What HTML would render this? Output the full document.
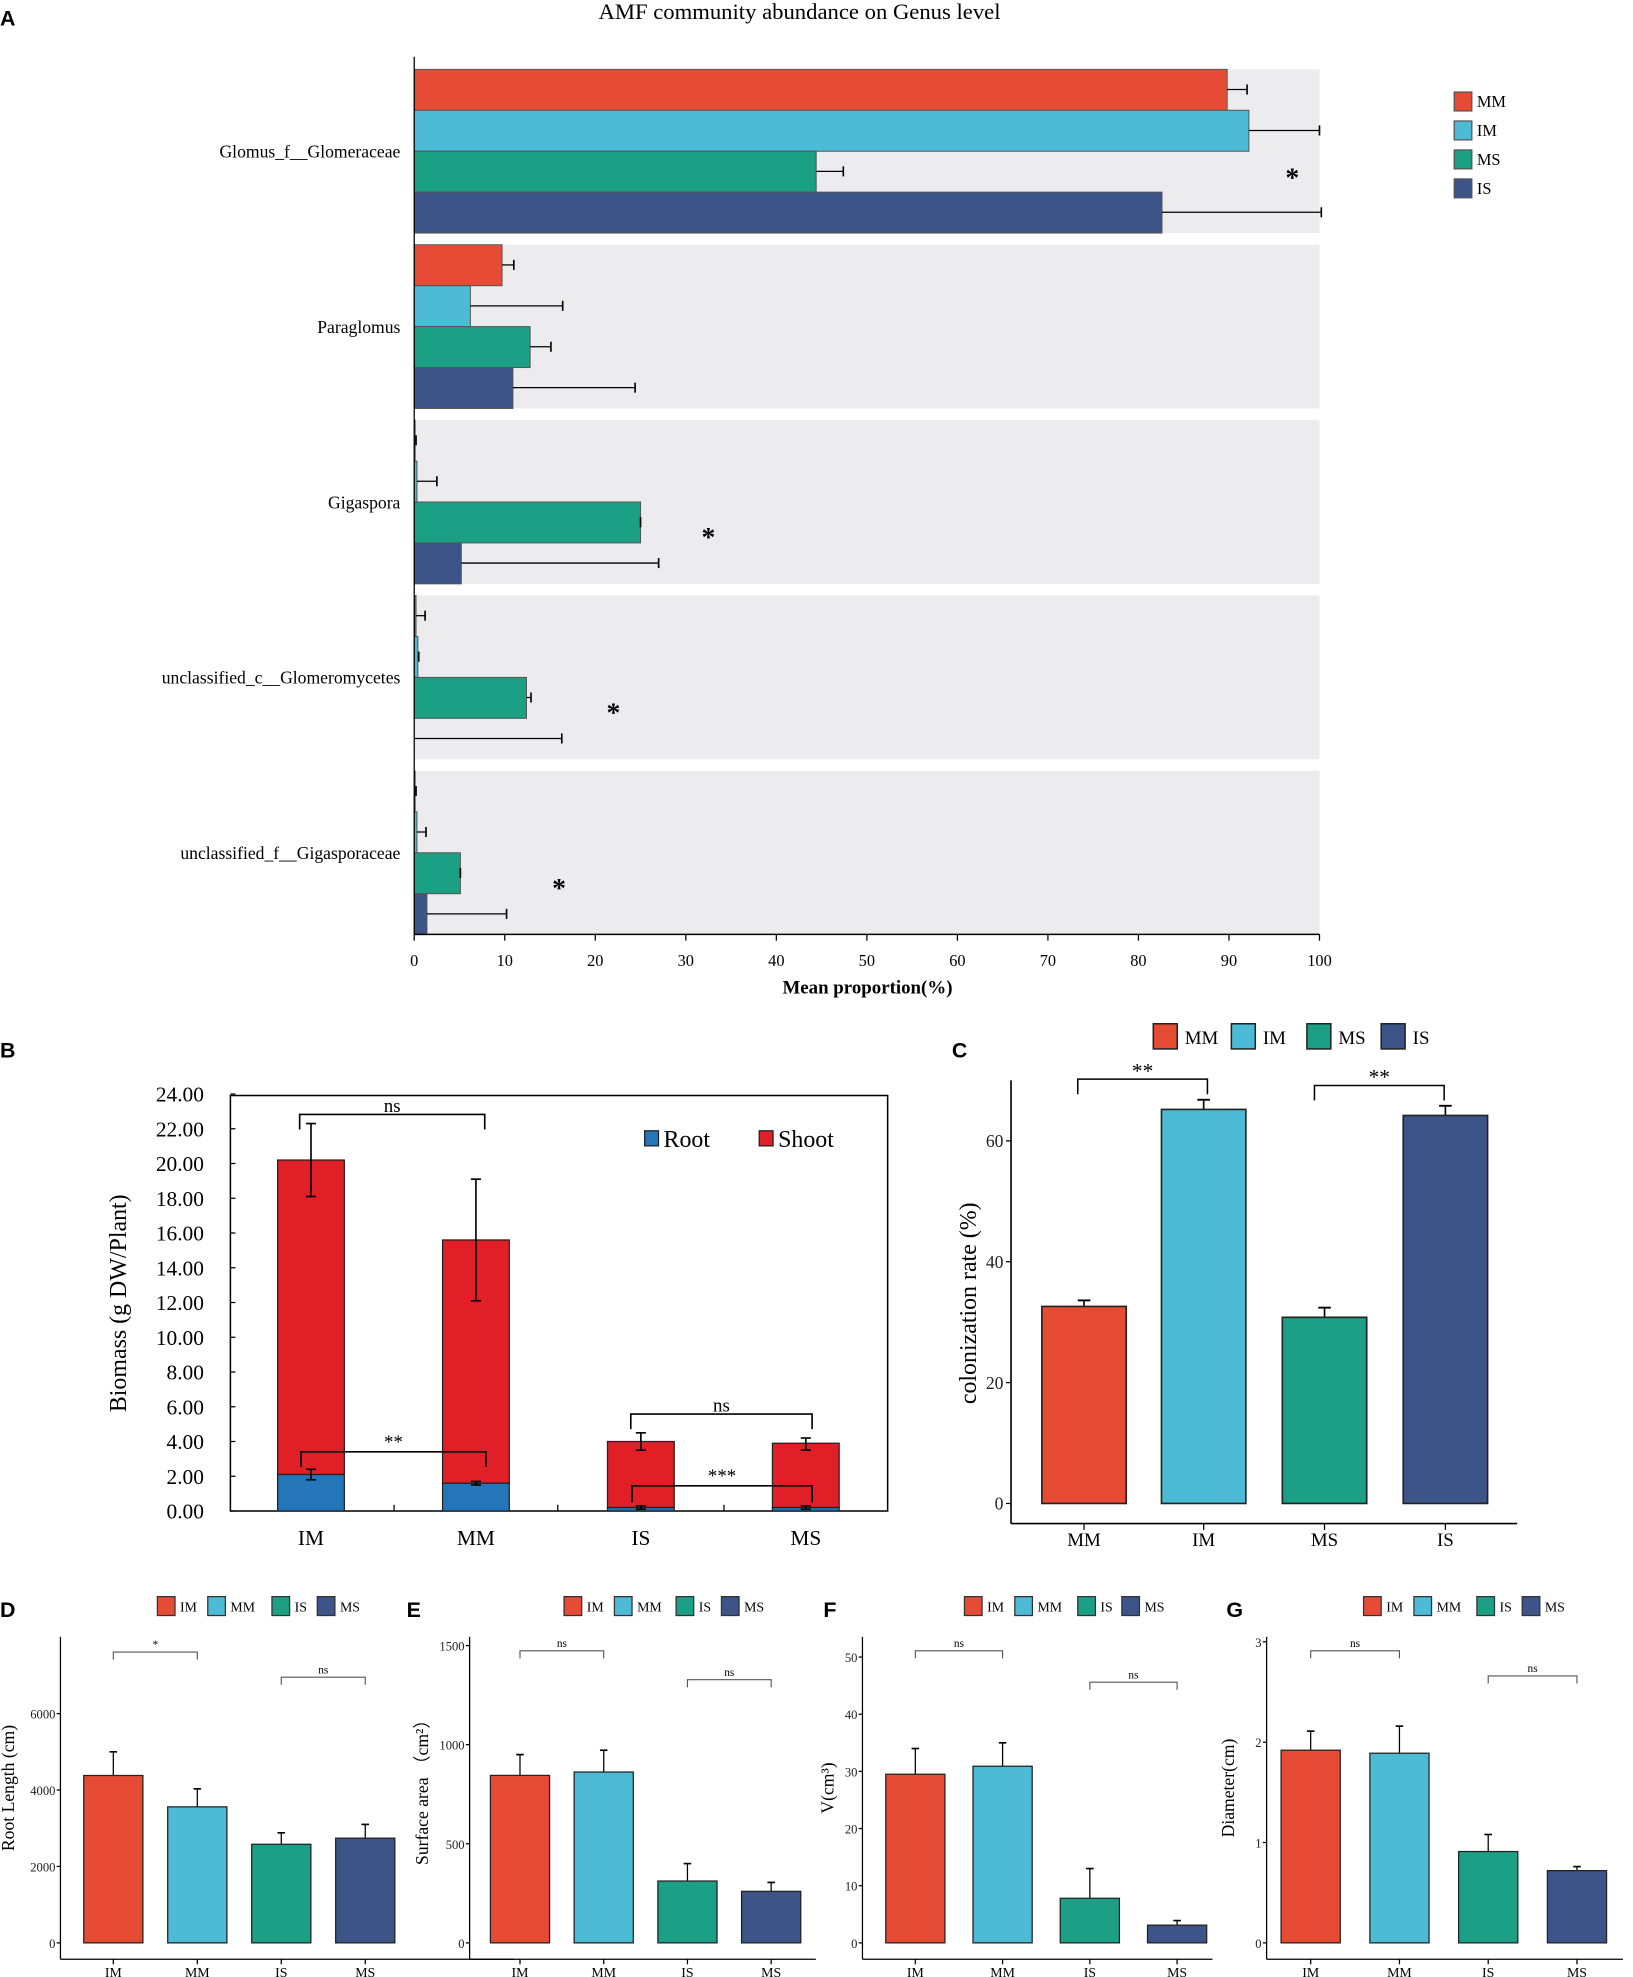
<!DOCTYPE html>
<html><head><meta charset="utf-8"><style>
html,body{margin:0;padding:0;background:#fff;}
svg{display:block;font-family:"Liberation Serif",serif;}
.lab{font-family:"Liberation Sans",sans-serif;font-weight:bold;}
</style></head><body>
<svg id="fig" xmlns="http://www.w3.org/2000/svg" width="1633" height="1977" viewBox="0 0 1297 1570"></svg>
<script>
// ---------- Panel A data ----------
const aGenera = ["Glomus_f__Glomeraceae","Paraglomus","Gigaspora","unclassified_c__Glomeromycetes","unclassified_f__Gigasporaceae"];
const aGroups = ["MM","IM","MS","IS"];
const aMean = [[89.8,92.2,44.4,82.6],[9.7,6.2,12.8,10.9],[0.1,0.3,25,5.2],[0.2,0.4,12.4,0],[0.1,0.3,5.1,1.4]];
const aErrTop = [[92,100,47.4,100.2],[11,16.4,15.1,24.4],[0.2,2.5,25,27],[1.2,0.5,12.9,16.3],[0.2,1.3,5.1,10.2]];
const aStarAt = [97,0,32.5,22,16];
const aStarShow = [1,0,1,1,1];
const aTicks = [0,10,20,30,40,50,60,70,80,90,100];
// ---------- Panel B data ----------
const bCats = ["IM","MM","IS","MS"];
const bRoot = [2.1,1.6,0.2,0.2];
const bTotal = [20.2,15.6,4.0,3.9];
const bTotLo = [18.1,12.1,3.5,3.5];
const bTotHi = [22.3,19.1,4.5,4.2];
const bRootLo = [1.8,1.5,0.1,0.1];
const bRootHi = [2.4,1.7,0.3,0.3];
const bTicks = [0,2,4,6,8,10,12,14,16,18,20,22,24];
// ---------- Panel C data ----------
const cCats = ["MM","IM","MS","IS"];
const cVals = [32.6,65.2,30.8,64.2];
const cErr = [33.6,66.8,32.4,65.8];
const cTicks = [0,20,40,60];
// ---------- Panels D-G data ----------
const dgCats = ["IM","MM","IS","MS"];
const dVals = [4380,3560,2580,2740]; const dErr = [5000,4030,2880,3100]; const dTicks=[0,2000,4000,6000];
const eVals = [845,862,312,260]; const eErr = [950,972,400,305]; const eTicks=[0,500,1000,1500];
const fVals = [29.5,30.9,7.8,3.1]; const fErr = [34,35,13,3.9]; const fTicks=[0,10,20,30,40,50];
const gVals = [1.92,1.89,0.91,0.72]; const gErr = [2.11,2.16,1.08,0.76]; const gTicks=[0,1,2,3];

const NS="http://www.w3.org/2000/svg";
const svg=document.getElementById('fig');
function el(tag,attrs,parent,text){const e=document.createElementNS(NS,tag);for(const k in attrs)e.setAttribute(k,attrs[k]);if(text!==undefined)e.textContent=text;(parent||svg).appendChild(e);return e;}
function grp(name){const g=el('g',{});


return g;}
const COL={MM:"#E64B35",IM:"#4DBBD5",MS:"#1BA086",IS:"#3C5488"};

// ===== Panel A =====
(function(){
const g=grp('panel-a');
const x=v=>329+v*7.19;
const t=el('text',{x:635,y:15,'text-anchor':'middle','font-size':18},g,'AMF community abundance on Genus level');

const L=el('text',{x:0,y:20,'font-size':17,class:'lab'},g,'A');

aGenera.forEach((name,i)=>{
  const top=55+i*139.3;
  const bg=el('rect',{x:329,y:top,width:719,height:130,fill:'#ECECEE'},g);
  
  const lb=el('text',{x:318,y:top+70,'text-anchor':'end','font-size':14},g,name);
  
  aGroups.forEach((gr,j)=>{
    const y=top+j*32.5;
    const b=el('rect',{x:329,y:y,width:Math.max(0,x(aMean[i][j])-329),height:32.5,fill:COL[gr],stroke:'#555','stroke-width':0.8},g);
    
    const ym=y+16;
    el('line',{x1:x(aMean[i][j]),x2:x(aErrTop[i][j]),y1:ym,y2:ym,stroke:'#000','stroke-width':1},g);
    el('line',{x1:x(aErrTop[i][j]),x2:x(aErrTop[i][j]),y1:ym-4,y2:ym+4,stroke:'#000','stroke-width':1.3},g);
  });
  if(aStarShow[i]){const s=el('text',{x:x(aStarAt[i]),y:top+100-(i==0?7:0),'text-anchor':'middle','font-size':22,'font-weight':'bold'},g,'*');
  }
});
el('line',{x1:329,x2:329,y1:45,y2:742,stroke:'#000','stroke-width':1},g);
el('line',{x1:329,x2:1048,y1:742,y2:742,stroke:'#000','stroke-width':1.2},g);
aTicks.forEach(v=>{el('line',{x1:x(v),x2:x(v),y1:742,y2:747,stroke:'#000'},g);
const tl=el('text',{x:x(v),y:767,'text-anchor':'middle','font-size':13},g,String(v));
});
const xt=el('text',{x:689,y:789,'text-anchor':'middle','font-size':15,'font-weight':'bold'},g,'Mean proportion(%)');

aGroups.forEach((gr,j)=>{
  const y=73+j*23;
  const s=el('rect',{x:1155,y:y,width:14,height:15,fill:COL[gr],stroke:'#555'},g);
  
  const lt=el('text',{x:1173,y:y+12,'font-size':13},g,gr);
  
});
})();

// ===== Panel B =====
(function(){
const g=grp('panel-b');
const y=v=>1200-v*13.8;
const cx=[247,378,509,640];const hw=26.5;
const L=el('text',{x:0,y:840,'font-size':17,class:'lab'},g,'B');

el('rect',{x:183,y:870,width:522,height:330,fill:'none',stroke:'#000','stroke-width':1.2},g);
bTicks.forEach(v=>{el('line',{x1:183,x2:187,y1:y(v),y2:y(v),stroke:'#000'},g);
const tl=el('text',{x:162,y:y(v)+6,'text-anchor':'end','font-size':17},g,v.toFixed(2));
});
[313,443,575].forEach(xx=>el('line',{x1:xx,x2:xx,y1:1200,y2:1195,stroke:'#000'},g));
bCats.forEach((c,i)=>{
  const sh=el('rect',{x:cx[i]-hw,y:y(bTotal[i]),width:2*hw,height:y(bRoot[i])-y(bTotal[i]),fill:'#E11F26',stroke:'#222','stroke-width':1},g);
  
  const rt=el('rect',{x:cx[i]-hw,y:y(bRoot[i]),width:2*hw,height:1200-y(bRoot[i]),fill:'#2576B8',stroke:'#222','stroke-width':1},g);
  
  [[bTotLo[i],bTotHi[i]],[bRootLo[i],bRootHi[i]]].forEach(([lo,hi])=>{
    el('line',{x1:cx[i],x2:cx[i],y1:y(lo),y2:y(hi),stroke:'#000','stroke-width':1.3},g);
    el('line',{x1:cx[i]-4,x2:cx[i]+4,y1:y(lo),y2:y(lo),stroke:'#000','stroke-width':1.3},g);
    el('line',{x1:cx[i]-4,x2:cx[i]+4,y1:y(hi),y2:y(hi),stroke:'#000','stroke-width':1.3},g);
  });
  const tl=el('text',{x:cx[i],y:1227,'text-anchor':'middle','font-size':17},g,c);
  
});
function br(x1,x2,yy,leg,txt,ty){el('path',{d:`M${x1},${yy+leg} V${yy} H${x2} V${yy+leg}`,fill:'none',stroke:'#000','stroke-width':1.3},g);
const t=el('text',{x:(x1+x2)/2,y:ty,'text-anchor':'middle','font-size':15},g,txt);
}
br(238,385,885,12,'ns',883);br(239,386,1153,12,'**',1150);br(501,645,1123,12,'ns',1121);br(502,645,1180,13,'***',1177);
const ty=el('text',{x:100,y:1035,'text-anchor':'middle','font-size':19,transform:'rotate(-90 100 1035)'},g,'Biomass (g DW/Plant)');

[['Root','#2576B8',512],['Shoot','#E11F26',603]].forEach(([n,c,xx])=>{
  const s=el('rect',{x:xx,y:898,width:11,height:12,fill:c,stroke:'#222'},g);
  
  const t=el('text',{x:xx+15,y:911,'font-size':19},g,n);
  
});
})();

// ===== Panel C =====
(function(){
const g=grp('panel-c');
const y=v=>1194-v*4.8;
const cx=[861,956,1052,1148];const hw=33.5;
const L=el('text',{x:756,y:840,'font-size':17,class:'lab'},g,'C');

el('line',{x1:803,x2:803,y1:858,y2:1210,stroke:'#000','stroke-width':1.3},g);
el('line',{x1:803,x2:1205,y1:1210,y2:1210,stroke:'#000','stroke-width':1.3},g);
cTicks.forEach(v=>{el('line',{x1:799,x2:803,y1:y(v),y2:y(v),stroke:'#000'},g);
const tl=el('text',{x:797,y:y(v)+5,'text-anchor':'end','font-size':14,fill:'#222'},g,String(v));
});
cCats.forEach((c,i)=>{
  el('line',{x1:cx[i],x2:cx[i],y1:y(cVals[i]),y2:y(cErr[i]),stroke:'#000','stroke-width':1.3},g);
  el('line',{x1:cx[i]-5,x2:cx[i]+5,y1:y(cErr[i]),y2:y(cErr[i]),stroke:'#000','stroke-width':1.5},g);
  const b=el('rect',{x:cx[i]-hw,y:y(cVals[i]),width:2*hw,height:1194-y(cVals[i]),fill:COL[c],stroke:'#222','stroke-width':1.3},g);
  
  el('line',{x1:cx[i],x2:cx[i],y1:1210,y2:1215,stroke:'#000'},g);
  const tl=el('text',{x:cx[i],y:1228,'text-anchor':'middle','font-size':15},g,c);
  
});
function br(x1,x2,yy,txt){el('path',{d:`M${x1},${yy+12} V${yy} H${x2} V${yy+12}`,fill:'none',stroke:'#000','stroke-width':1.2},g);
const t=el('text',{x:(x1+x2)/2,y:yy-1,'text-anchor':'middle','font-size':17},g,txt);
}
br(856,959,857,'**');br(1044,1147,862,'**');
const ty=el('text',{x:775,y:1035,'text-anchor':'middle','font-size':19,transform:'rotate(-90 775 1035)'},g,'colonization rate (%)');

[['MM',916],['IM',978],['MS',1038],['IS',1097]].forEach(([n,xx])=>{
  const s=el('rect',{x:xx,y:813,width:19,height:20,fill:COL[n],stroke:'#222','stroke-width':1.2},g);
  
  const t=el('text',{x:xx+25,y:829,'font-size':15},g,n);
  
});
})();

// ===== Panels D-G =====
const DGCOL={IM:"#E64B35",MM:"#4DBBD5",IS:"#1BA086",MS:"#3C5488"};
function small(cfg){
  const g=grp(cfg.name);
  const y=v=>1543-v*cfg.k;
  const L=el('text',{x:cfg.lx,y:1284,'font-size':17,class:'lab'},g,cfg.letter);
  
  el('line',{x1:cfg.ax,x2:cfg.ax,y1:1300,y2:1556,stroke:'#000'},g);
  el('line',{x1:cfg.ax,x2:cfg.ax+cfg.aw,y1:1556,y2:1556,stroke:'#000'},g);
  cfg.ticks.forEach(v=>{el('line',{x1:cfg.ax-3,x2:cfg.ax,y1:y(v),y2:y(v),stroke:'#000'},g);
  const tl=el('text',{x:cfg.ax-4,y:y(v)+4,'text-anchor':'end','font-size':10,fill:'#222'},g,String(v));
  });
  dgCats.forEach((c,i)=>{
    const cx=cfg.x0+i*cfg.step;
    el('line',{x1:cx,x2:cx,y1:y(cfg.vals[i]),y2:y(cfg.err[i]),stroke:'#000'},g);
    el('line',{x1:cx-3,x2:cx+3,y1:y(cfg.err[i]),y2:y(cfg.err[i]),stroke:'#000','stroke-width':1.3},g);
    const b=el('rect',{x:cx-23.5,y:y(cfg.vals[i]),width:47,height:1543-y(cfg.vals[i]),fill:DGCOL[c],stroke:'#222','stroke-width':1},g);
    
    el('line',{x1:cx,x2:cx,y1:1556,y2:1560,stroke:'#000'},g);
    const tl=el('text',{x:cx,y:1570,'text-anchor':'middle','font-size':11},g,c);
    
  });
  cfg.brs.forEach(([i1,i2,yy,txt])=>{
    const x1=cfg.x0+i1*cfg.step,x2=cfg.x0+i2*cfg.step;
    el('path',{d:`M${x1},${yy+6} V${yy} H${x2} V${yy+6}`,fill:'none',stroke:'#555','stroke-width':0.9},g);
    const t=el('text',{x:(x1+x2)/2,y:yy-3,'text-anchor':'middle','font-size':9},g,txt);
    
  });
  const ty=el('text',{x:cfg.tx,y:1420,'text-anchor':'middle','font-size':14,transform:`rotate(-90 ${cfg.tx} 1420)`},g,cfg.title);
  
  dgCats.forEach((c,i)=>{
    const xx=cfg.leg[i];
    const s=el('rect',{x:xx,y:1268,width:14,height:15,fill:DGCOL[c],stroke:'#333'},g);
    
    const t=el('text',{x:xx+18,y:1280,'font-size':11},g,c);
    
  });
}
small({name:'panel-d',letter:'D',lx:0,ax:48,aw:360,k:60.7/2000,x0:90,step:66.7,vals:dVals,err:dErr,ticks:dTicks,brs:[[0,1,1312,'*'],[2,3,1332,'ns']],tx:11,title:'Root  Length (cm)',leg:[125,165,216,252]});
small({name:'panel-e',letter:'E',lx:323,ax:373,aw:275,k:78.7/500,x0:413,step:66.5,vals:eVals,err:eErr,ticks:eTicks,brs:[[0,1,1311,'ns'],[2,3,1334,'ns']],tx:340,title:'Surface area （cm²）',leg:[448,488,537,573]});
small({name:'panel-f',letter:'F',lx:654,ax:685,aw:278,k:45.4/10,x0:727,step:69.3,vals:fVals,err:fErr,ticks:fTicks,brs:[[0,1,1311,'ns'],[2,3,1336,'ns']],tx:662,title:'V(cm³)',leg:[766,806,856,891]});
small({name:'panel-g',letter:'G',lx:974,ax:1006,aw:283,k:79.7,x0:1041,step:70.5,vals:gVals,err:gErr,ticks:gTicks,brs:[[0,1,1311,'ns'],[2,3,1331,'ns']],tx:980,title:'Diameter(cm)',leg:[1083,1123,1173,1209]});
</script>
</body></html>
